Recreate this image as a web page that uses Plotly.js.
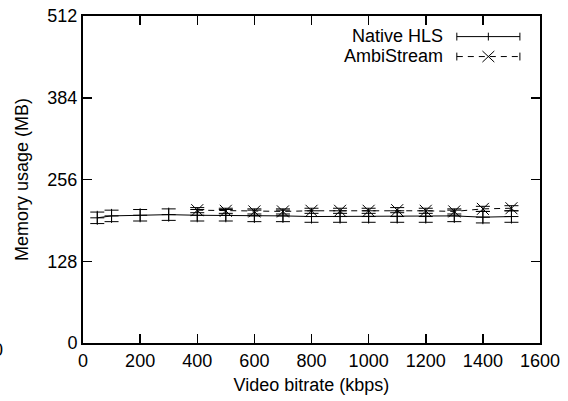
<!DOCTYPE html>
<html>
<head>
<meta charset="utf-8">
<script src="https://cdn.plot.ly/plotly-3.0.1.min.js"></script>
<style>html,body{margin:0;padding:0;background:#fff;}#chart{width:568px;height:401px;}</style>
</head>
<body>
<div id="chart"></div>
<script>
// Data
const nativeX = [50, 100, 200, 300, 400, 500, 600, 700, 800, 900, 1000, 1100, 1200, 1300, 1400, 1500];
const nativeY = [196, 199, 200, 201, 200, 200, 199, 199, 198, 198, 198, 198, 198, 199, 197, 198];
const nativeErr = [9, 9, 9, 9, 9, 9, 9, 9, 9, 9, 9, 9, 9, 9, 9, 9];
const ambiX = [400, 500, 600, 700, 800, 900, 1000, 1100, 1200, 1300, 1400, 1500];
const ambiY = [208, 207, 206, 206, 207, 207, 207, 208, 207, 206, 210, 211];
const ambiErr = [4, 4, 4, 4, 4, 4, 4, 4, 4, 4, 4, 4];
const xTicks = [0, 200, 400, 600, 800, 1000, 1200, 1400, 1600];
const yTicks = [0, 128, 256, 384, 512];
const seriesNames = ['Native HLS', 'AmbiStream'];

const font = {family: 'Liberation Sans, Arial, sans-serif', size: 18, color: '#000'};

const traces = [
  {
    x: nativeX, y: nativeY, name: seriesNames[0], type: 'scatter', mode: 'lines+markers',
    line: {color: '#000', width: 1},
    marker: {symbol: 'cross-thin', size: 10, line: {color: '#000', width: 1}, color: '#000'},
    error_y: {type: 'data', array: nativeErr, visible: true, color: '#000', thickness: 1, width: 7}
  },
  {
    x: ambiX, y: ambiY, name: seriesNames[1], type: 'scatter', mode: 'lines+markers',
    line: {color: '#000', width: 1, dash: '6px,5px'},
    marker: {symbol: 'x-thin', size: 12, line: {color: '#000', width: 1}, color: '#000'},
    error_y: {type: 'data', array: ambiErr, visible: true, color: '#000', thickness: 1, width: 7}
  }
];

const axisCommon = {
  showgrid: false, zeroline: false, showline: true, mirror: 'ticks',
  linecolor: '#000', linewidth: 2, ticks: 'inside', ticklen: 9, tickwidth: 1.5, tickcolor: '#000',
  tickfont: font
};

const layout = {
  width: 568, height: 401,
  margin: {l: 83, r: 28, t: 16, b: 58},
  paper_bgcolor: '#fff', plot_bgcolor: '#fff',
  showlegend: false,
  font: font,
  xaxis: Object.assign({}, axisCommon, {
    range: [0, 1600], tickvals: xTicks, ticktext: xTicks.map(String),
    title: {text: 'Video bitrate (kbps)', font: font, standoff: 9}
  }),
  yaxis: Object.assign({}, axisCommon, {
    range: [0, 512], tickvals: yTicks, ticktext: yTicks.map(String),
    title: {text: 'Memory usage (MB)', font: font, standoff: 14}
  }),
  annotations: [
    {xref: 'paper', yref: 'paper', x: 0.791, y: 0.940, xanchor: 'right', yanchor: 'middle',
     text: seriesNames[0], showarrow: false, font: font, borderpad: 0},
    {xref: 'paper', yref: 'paper', x: 0.791, y: 0.879, xanchor: 'right', yanchor: 'middle',
     text: seriesNames[1], showarrow: false, font: font, borderpad: 0},
    {xref: 'paper', yref: 'paper', x: -0.186, y: -0.021, xanchor: 'center', yanchor: 'middle',
     text: '0', showarrow: false, font: font}
  ],
  shapes: [
    // legend sample: Native HLS
    {type: 'line', xref: 'paper', yref: 'paper', x0: 0.818, x1: 0.956, y0: 0.937, y1: 0.937, line: {color: '#000', width: 1}},
    {type: 'line', xref: 'paper', yref: 'paper', x0: 0.818, x1: 0.818, y0: 0.925, y1: 0.949, line: {color: '#000', width: 1}},
    {type: 'line', xref: 'paper', yref: 'paper', x0: 0.956, x1: 0.956, y0: 0.925, y1: 0.949, line: {color: '#000', width: 1}},
    {type: 'line', xref: 'paper', yref: 'paper', x0: 0.887, x1: 0.887, y0: 0.925, y1: 0.949, line: {color: '#000', width: 1}},
    // legend sample: AmbiStream
    {type: 'line', xref: 'paper', yref: 'paper', x0: 0.818, x1: 0.956, y0: 0.876, y1: 0.876, line: {color: '#000', width: 1, dash: '6px,5px'}},
    {type: 'line', xref: 'paper', yref: 'paper', x0: 0.818, x1: 0.818, y0: 0.864, y1: 0.888, line: {color: '#000', width: 1}},
    {type: 'line', xref: 'paper', yref: 'paper', x0: 0.956, x1: 0.956, y0: 0.864, y1: 0.888, line: {color: '#000', width: 1}},
    {type: 'line', xref: 'paper', yref: 'paper', x0: 0.874, x1: 0.900, y0: 0.859, y1: 0.893, line: {color: '#000', width: 1}},
    {type: 'line', xref: 'paper', yref: 'paper', x0: 0.874, x1: 0.900, y0: 0.893, y1: 0.859, line: {color: '#000', width: 1}}
  ]
};

Plotly.newPlot('chart', traces, layout, {displayModeBar: false, staticPlot: true});
</script>
</body>
</html>
